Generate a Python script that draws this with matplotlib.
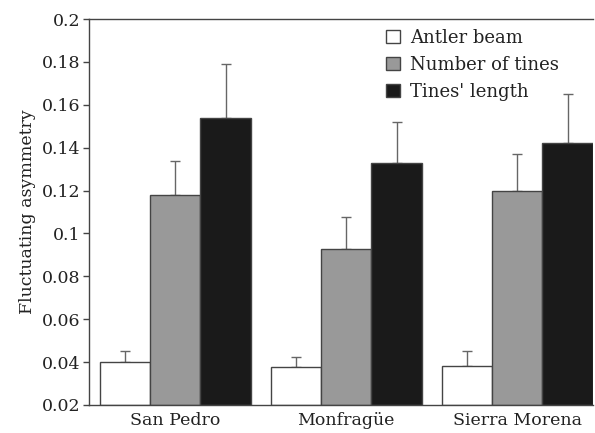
import matplotlib
matplotlib.use("Agg")
import matplotlib.pyplot as plt
import numpy as np
from matplotlib.patches import Patch

sites = ["San Pedro", "Monfragüe", "Sierra Morena"]
series = ["Antler beam", "Number of tines", "Tines' length"]
antler_beam = [0.040, 0.0375, 0.0383]
antler_beam_err = [0.005, 0.005, 0.0067]
number_of_tines = [0.118, 0.0926, 0.120]
number_of_tines_err = [0.016, 0.0152, 0.017]
tines_length = [0.154, 0.133, 0.1423]
tines_length_err = [0.025, 0.019, 0.0227]
yticks = [0.02, 0.04, 0.06, 0.08, 0.1, 0.12, 0.14, 0.16, 0.18, 0.2]
ytick_labels = ["0.02", "0.04", "0.06", "0.08", "0.1", "0.12", "0.14", "0.16", "0.18", "0.2"]

plt.rcParams['font.family'] = ['DejaVu Serif']

fig = plt.figure(figsize=(5.95, 4.33), dpi=100)
ax = fig.add_axes([0.1496, 0.0647, 0.8470, 0.8913])

colors = ["white", "#999999", "#1a1a1a"]
vals = [antler_beam, number_of_tines, tines_length]
errs = [antler_beam_err, number_of_tines_err, tines_length_err]
w = 0.295
x = np.arange(len(sites))
base = 0.02
for i in range(3):
    pos = x + (i - 1) * w
    v = np.array(vals[i])
    ax.bar(pos, v - base, bottom=base, width=w, color=colors[i], edgecolor="#444444",
           linewidth=1.0, zorder=2)
    ax.errorbar(pos, v, yerr=[np.zeros(3), errs[i]], fmt="none", ecolor="#666666",
                elinewidth=1.0, capsize=3.5, capthick=1.0, zorder=1)

ax.set_ylim(0.02, 0.2)
ax.set_xlim(-0.504, 2.443)
ax.set_yticks(yticks)
ax.set_yticklabels(ytick_labels)
ax.set_xticks(x)
ax.set_xticklabels(sites)
ax.tick_params(axis="x", length=0, labelsize=12.5, pad=5, labelcolor="#222222")
ax.tick_params(axis="y", direction="out", length=4, labelsize=12.5, width=1, color="#444444",
               pad=2, labelcolor="#222222")
ax.set_ylabel("Fluctuating asymmetry", fontsize=12.5, labelpad=4, color="#222222")
for s in ax.spines.values():
    s.set_color("#444444")
    s.set_linewidth(1.0)
ax.spines["right"].set_visible(False)

handles = [Patch(facecolor=c, edgecolor="#444444", linewidth=1.0) for c in colors]
leg = ax.legend(handles, series, loc="upper left", bbox_to_anchor=(0.589, 0.975), frameon=False,
                fontsize=13, handlelength=0.78, handleheight=0.78, handletextpad=0.55,
                labelspacing=0.5, borderaxespad=0.0, borderpad=0.0)
for t in leg.get_texts():
    t.set_color("#222222")

fig.savefig("out.png", dpi=100)
